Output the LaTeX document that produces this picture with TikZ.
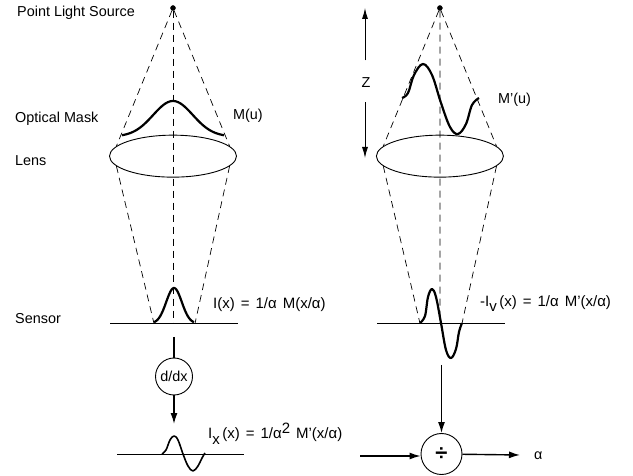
\documentclass[tikz,border=0pt]{standalone}
\usepackage{fontspec}
\setmainfont{Liberation Sans}
\usepackage{tikz}
\usetikzlibrary{positioning, arrows.meta, shapes.geometric}
\newcommand{\eqsp}{\hspace{6pt}}

\begin{document}
\begin{tikzpicture}[
  x=1pt, y=-1pt,
  every node/.style={font=\fontsize{14.4}{16}\selectfont},
  label/.style={inner sep=0pt, anchor=west},
  eqn/.style={label, font=\fontsize{15}{17}\selectfont},
  source/.style={draw, circle, fill=black, inner sep=0pt, minimum size=5pt},
  lens/.style={draw, ellipse, line width=0.9pt, inner sep=0pt, minimum width=127pt, minimum height=42pt},
  op/.style={draw, circle, line width=0.9pt, fill=white, inner sep=0pt, minimum size=37pt},
  ray/.style={dash pattern=on 7pt off 5pt, line width=0.7pt},
  base/.style={line width=0.9pt},
  curve/.style={line width=2.2pt, line join=round},
  arrow/.style={-{Latex[length=11pt, width=7pt]}, line width=1.4pt},
  zarrow/.style={-{Latex[length=11pt, width=6pt]}, line width=0.9pt},
]
  \useasboundingbox (0,0) rectangle (633,476);

  % left path
  \node[source] (srcL) at (173,8) {};
  \node[lens, below=124pt of srcL] (lensL) {};
  \coordinate (sensL) at (173,323.5);
  \coordinate (sensLa) at (110,323.5);
  \coordinate (sensLb) at (238,323.5);
  \coordinate (sensLc) at (154,323.5);
  \coordinate (sensLd) at (195,323.5);

  % right path
  \node[lens, right=139pt of lensL] (lensR) {};
  \node[source, above=124pt of lensR] (srcR) {};
  \coordinate (sensR) at (440,323.5);
  \coordinate (sensRa) at (377,323.5);
  \coordinate (sensRb) at (505,323.5);
  \coordinate (sensRc) at (420,323.5);
  \coordinate (sensRd) at (462,323.5);

  \draw[base] (sensLa) -- (sensLb);
  \draw[base] (sensRa) -- (sensRb);

  % rays
  \draw[ray] (srcL) -- (sensL);
  \draw[ray] (srcL) -- (lensL.170);
  \draw[ray] (srcL) -- (lensL.10);
  \draw[ray] (lensL.190) -- (sensLc);
  \draw[ray] (lensL.350) -- (sensLd);
  \draw[ray] (srcR) -- (sensR);
  \draw[ray] (srcR) -- (lensR.170);
  \draw[ray] (srcR) -- (lensR.10);
  \draw[ray] (lensR.190) -- (sensRc);
  \draw[ray] (lensR.350) -- (sensRd);

  % masks and sensor signals
  \draw[curve] plot[domain=-51:51, samples=50] ({173+\x}, {136.5-35.5*exp(-(\x/28)^2)});
  \draw[curve] plot[smooth, tension=0.6] coordinates {(402,98) (408,93) (414,75) (423,64) (432,75) (441,103) (450,127) (458,134) (466,124) (472,105) (479,98)};
  \draw[curve] plot[domain=-20:20, samples=40] ({174+\x}, {323.5-35.5*exp(-(\x/11)^2)});
  \draw[curve] plot[smooth, tension=0.6] coordinates {(420,323) (425,316) (428,297) (432,289) (436,297) (441,323) (446,350) (451,358) (456,349) (459,332) (462,323)};

  % derivative branch
  \node[op] (ddx) at (174,376.5) {d/dx};
  \coordinate (ddxin) at (174,337);
  \coordinate (ddxout) at (174,424);
  \draw[line width=1.4pt] (ddxin) -- (ddx);
  \draw[arrow] (ddx) -- (ddxout);
  \coordinate (gradLa) at (117,454);
  \coordinate (gradLb) at (244,454);
  \draw[base] (gradLa) -- (gradLb);
  \draw[curve, line width=1.6pt] plot[smooth, tension=0.6] coordinates {(162,454) (166,450) (170,440) (174,436) (178,440) (183,454) (188,466) (193,471) (198,466) (202,458) (205,453)};

  % division
  \node[op, minimum size=41pt] (divi) at (441.5,454) {\fontsize{22}{22}\selectfont\bfseries ÷};
  \coordinate (diviin) at (441.5,365);
  \coordinate (gradout) at (360,456);
  \coordinate (diviout) at (520,455);
  \node[label] (outa) at (534,455.5) {α};
  \draw[arrow] (diviin) -- (divi);
  \draw[arrow] (gradout) -- (divi.west |- gradout);
  \draw[arrow] (divi) -- (diviout);

  % depth arrows
  \node (zlab) at (366,82.5) {Z};
  \coordinate (zup) at (365,8);
  \coordinate (zdown) at (365,158);
  \draw[zarrow] (zlab) ++(-1,-22) -- (zup);
  \draw[zarrow] (zlab) ++(-1,20) -- (zdown);

  % text
  \node[label] (l1) at (17,13) {Point Light Source};
  \node[label] (l2) at (15,119) {Optical Mask};
  \node[label] (l3) at (15,161) {Lens};
  \node[label] (l4) at (15,319) {Sensor};
  \node[label] (l5) at (233,116) {M(u)};
  \node[label] (l6) at (498,100) {M'(u)};
  \node[eqn] (l7) at (213,305) {I(x)\eqsp=\eqsp1/α\eqsp M(x/α)};
  \node[eqn] (l8) at (480,304) {-I\raisebox{-5pt}{v}\,(x)\eqsp=\eqsp1/α\eqsp M'(x/α)};
  \node[eqn] (l9) at (208,434) {I\raisebox{-6pt}{x}\,(x)\eqsp=\eqsp1/α\raisebox{5pt}{2}\eqsp M'(x/α)};
\end{tikzpicture}
\end{document}
